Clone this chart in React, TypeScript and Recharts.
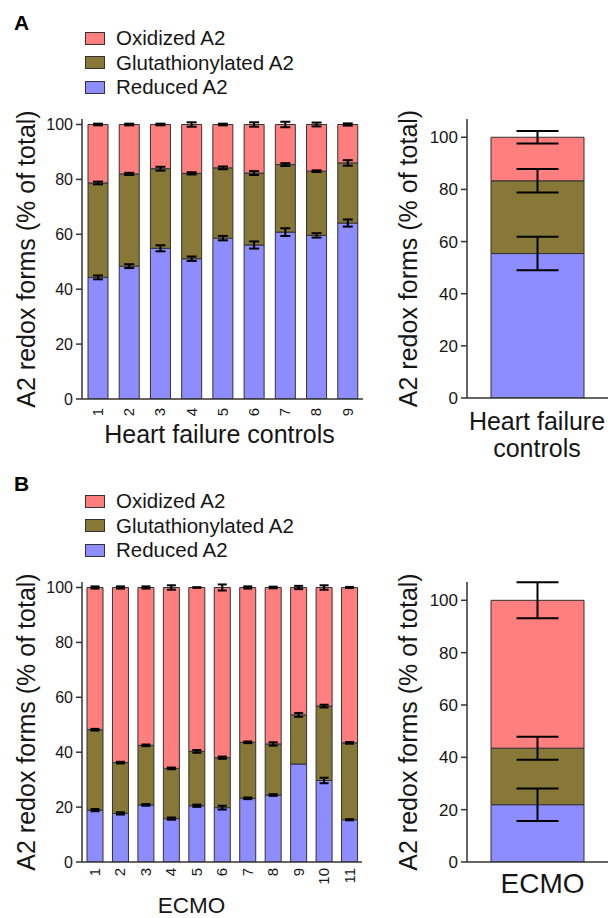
import { BarChart, Bar, XAxis, YAxis, ErrorBar, Legend, Label } from 'recharts';

const FONT = '"Liberation Sans", Arial, Helvetica, sans-serif';
const INK = '#161616';
const EDGE = '#333333';
const OX_COLOR = '#FF7F7F';
const GLUT_COLOR = '#877838';
const RED_COLOR = '#8D8DFF';

// Panel A – heart failure controls (per patient)
const hfPatients = ['1', '2', '3', '4', '5', '6', '7', '8', '9'];
const hfReduced = [44.3, 48.4, 54.9, 51.1, 58.6, 56.1, 60.8, 59.6, 64.1];
const hfGlut = [34.4, 33.6, 29.0, 31.1, 25.6, 26.2, 24.6, 23.4, 21.9];
const hfOxidized = [21.3, 18.0, 16.1, 17.8, 15.8, 17.7, 14.6, 17.0, 14.0];
const hfReducedErr = [0.7, 0.7, 1.1, 0.8, 0.8, 1.3, 1.4, 0.8, 1.3];
const hfGlutErr = [0.5, 0.4, 0.7, 0.4, 0.5, 0.7, 0.5, 0.3, 1.0];
const hfOxidizedErr = [0.3, 0.3, 0.3, 0.8, 0.3, 0.8, 1.0, 0.7, 0.4];

// Panel A – summary
const hfGroup = ['Heart failure controls'];
const hfMeanReduced = [55.4];
const hfMeanGlut = [27.9];
const hfMeanOxidized = [16.7];
const hfMeanReducedErr = [6.4];
const hfMeanGlutErr = [4.5];
const hfMeanOxidizedErr = [2.4];

// Panel B – ECMO (per patient)
const ecmoPatients = ['1', '2', '3', '4', '5', '6', '7', '8', '9', '10', '11'];
const ecmoReduced = [18.9, 17.7, 20.8, 15.8, 20.5, 19.8, 23.2, 24.4, 35.7, 29.7, 15.4];
const ecmoGlut = [29.3, 18.5, 21.7, 18.3, 19.8, 18.2, 20.4, 18.6, 17.9, 27.1, 28.0];
const ecmoOxidized = [51.8, 63.8, 57.5, 65.9, 59.7, 62.0, 56.4, 57.0, 46.4, 43.2, 56.6];
const ecmoReducedErr = [0.4, 0.4, 0.3, 0.4, 0.4, 0.7, 0.3, 0.3, 0, 1.0, 0.2];
const ecmoGlutErr = [0.3, 0.3, 0.3, 0.3, 0.5, 0.4, 0.3, 0.6, 0.7, 0.5, 0.3];
const ecmoOxidizedErr = [0.4, 0.4, 0.4, 0.8, 0.1, 1.1, 0.4, 0.3, 0.6, 0.8, 0.2];

// Panel B – summary
const ecmoGroup = ['ECMO'];
const ecmoMeanReduced = [21.9];
const ecmoMeanGlut = [21.6];
const ecmoMeanOxidized = [56.5];
const ecmoMeanReducedErr = [6.2];
const ecmoMeanGlutErr = [4.4];
const ecmoMeanOxidizedErr = [6.9];

const yTicks = [0, 20, 40, 60, 80, 100];

const legendItems = [
  { label: 'Oxidized A2', color: OX_COLOR },
  { label: 'Glutathionylated A2', color: GLUT_COLOR },
  { label: 'Reduced A2', color: RED_COLOR },
];

function buildRows(
  names: string[],
  red: number[],
  glut: number[],
  ox: number[],
  redErr: number[],
  glutErr: number[],
  oxErr: number[],
) {
  return names.map((name, i) => ({
    name,
    reduced: red[i],
    glut: glut[i],
    ox: ox[i],
    reducedErr: redErr[i],
    glutErr: glutErr[i],
    oxErr: oxErr[i],
  }));
}

function LegendBox() {
  return (
    <div style={{ fontFamily: FONT, fontSize: 20.5, color: INK }}>
      {legendItems.map((it) => (
        <div key={it.label} style={{ display: 'flex', alignItems: 'center', height: 24.5 }}>
          <span
            style={{
              display: 'inline-block',
              width: 20,
              height: 13,
              background: it.color,
              border: `1px solid ${EDGE}`,
              boxSizing: 'border-box',
              marginRight: 11,
            }}
          />
          <span style={{ whiteSpace: 'nowrap' }}>{it.label}</span>
        </div>
      ))}
    </div>
  );
}

const yLabel = (cx: number) => (props: any) => {
  const vb = props.viewBox;
  const cy = vb.y + vb.height / 2;
  return (
    <text
      x={cx}
      y={cy}
      transform={`rotate(-90 ${cx} ${cy})`}
      textAnchor="middle"
      dominantBaseline="central"
      fontSize={25}
      fill={INK}
      fontFamily={FONT}
    >
      A2 redox forms (% of total)
    </text>
  );
};

const xLabel = (cx: number, lines: string[], dy: number, lineGap: number, size: number) => (props: any) => {
  const vb = props.viewBox;
  return (
    <text textAnchor="middle" fontSize={size} fill={INK} fontFamily={FONT}>
      {lines.map((l, i) => (
        <tspan key={l} x={cx} y={vb.y + dy + i * lineGap}>
          {l}
        </tspan>
      ))}
    </text>
  );
};

const rotTick = (gap: number) => (props: any) => {
  const { x, y, payload } = props;
  return (
    <g transform={`translate(${x},${y + gap})`}>
      <text transform="rotate(-90)" textAnchor="end" dy="0.35em" fontSize={15} fill={INK} fontFamily={FONT}>
        {payload.value}
      </text>
    </g>
  );
};

type PanelProps = {
  data: ReturnType<typeof buildRows>;
  width: number;
  height: number;
  top: number;
  right: number;
  yWidth: number;
  xHeight: number;
  yMax: number;
  barSize: number;
  capWidth: number;
  tickGap?: number;
  yLabelX: number;
  tickFont: number;
  xLabelContent: (props: any) => any;
  legendTop?: number;
};

function Panel(p: PanelProps) {
  const axisStyle = { stroke: EDGE, strokeWidth: 1.5 };
  const err = (key: string) => (
    <ErrorBar dataKey={key} width={p.capWidth} strokeWidth={2} stroke="#000" direction="y" />
  );
  return (
    <BarChart
      width={p.width}
      height={p.height}
      data={p.data}
      margin={{ top: p.top, right: p.right, bottom: 0, left: 0 }}
    >
      {p.legendTop !== undefined && (
        <Legend
          layout="vertical"
          align="center"
          verticalAlign="middle"
          content={() => <LegendBox />}
          wrapperStyle={{ left: 85, top: p.legendTop, width: 300 }}
        />
      )}
      <XAxis
        dataKey="name"
        height={p.xHeight}
        interval={0}
        tickLine={false}
        tickSize={0}
        tickMargin={0}
        axisLine={axisStyle}
        tick={p.tickGap !== undefined ? rotTick(p.tickGap) : false}
      >
        <Label content={p.xLabelContent} />
      </XAxis>
      <YAxis
        type="number"
        domain={[0, p.yMax]}
        allowDataOverflow
        ticks={yTicks}
        interval={0}
        width={p.yWidth}
        tickSize={6}
        tickMargin={3}
        tickLine={axisStyle}
        axisLine={axisStyle}
        tick={{ fontSize: p.tickFont, fill: INK, fontFamily: FONT }}
      >
        <Label content={yLabel(p.yLabelX)} />
      </YAxis>
      <Bar dataKey="reduced" stackId="s" fill={RED_COLOR} stroke={EDGE} strokeWidth={1} barSize={p.barSize} isAnimationActive={false}>
        {err('reducedErr')}
      </Bar>
      <Bar dataKey="glut" stackId="s" fill={GLUT_COLOR} stroke={EDGE} strokeWidth={1} barSize={p.barSize} isAnimationActive={false}>
        {err('glutErr')}
      </Bar>
      <Bar dataKey="ox" stackId="s" fill={OX_COLOR} stroke={EDGE} strokeWidth={1} barSize={p.barSize} isAnimationActive={false}>
        {err('oxErr')}
      </Bar>
    </BarChart>
  );
}

const hfRows = buildRows(hfPatients, hfReduced, hfGlut, hfOxidized, hfReducedErr, hfGlutErr, hfOxidizedErr);
const hfMeanRows = buildRows(hfGroup, hfMeanReduced, hfMeanGlut, hfMeanOxidized, hfMeanReducedErr, hfMeanGlutErr, hfMeanOxidizedErr);
const ecmoRows = buildRows(ecmoPatients, ecmoReduced, ecmoGlut, ecmoOxidized, ecmoReducedErr, ecmoGlutErr, ecmoOxidizedErr);
const ecmoMeanRows = buildRows(ecmoGroup, ecmoMeanReduced, ecmoMeanGlut, ecmoMeanOxidized, ecmoMeanReducedErr, ecmoMeanGlutErr, ecmoMeanOxidizedErr);

export default function App() {
  const panelLetter = { position: 'absolute' as const, left: 14, fontFamily: FONT, fontWeight: 700, fontSize: 21, color: '#000', lineHeight: 1 };
  return (
    <div style={{ position: 'absolute', left: 0, top: 0, width: 608, height: 918, background: '#fff', fontFamily: FONT, overflow: 'hidden' }}>
      <div style={{ ...panelLetter, top: 12 }}>A</div>
      <div style={{ ...panelLetter, top: 473 }}>B</div>

      <div style={{ position: 'absolute', left: 0, top: 0 }}>
        <Panel
          data={hfRows}
          width={372}
          height={470}
          top={119}
          right={9}
          yWidth={82}
          xHeight={71}
          yMax={102}
          barSize={20}
          capWidth={5}
          tickGap={9}
          yLabelX={26}
          tickFont={16}
          xLabelContent={xLabel(219.5, ['Heart failure controls'], 44, 0, 25)}
          legendTop={26}
        />
      </div>

      <div style={{ position: 'absolute', left: 380, top: 0 }}>
        <Panel
          data={hfMeanRows}
          width={228}
          height={470}
          top={119}
          right={0}
          yWidth={87}
          xHeight={72}
          yMax={107}
          barSize={93}
          capWidth={21}
          yLabelX={28}
          tickFont={17}
          xLabelContent={xLabel(157, ['Heart failure', 'controls'], 32, 26.5, 25)}
        />
      </div>

      <div style={{ position: 'absolute', left: 0, top: 470 }}>
        <Panel
          data={ecmoRows}
          width={372}
          height={448}
          top={112}
          right={10}
          yWidth={82}
          xHeight={56}
          yMax={102}
          barSize={16}
          capWidth={4.5}
          tickGap={6}
          yLabelX={26}
          tickFont={16}
          xLabelContent={xLabel(191.5, ['ECMO'], 51, 0, 22.5)}
          legendTop={19}
        />
      </div>

      <div style={{ position: 'absolute', left: 380, top: 470 }}>
        <Panel
          data={ecmoMeanRows}
          width={228}
          height={448}
          top={112}
          right={0}
          yWidth={87}
          xHeight={56}
          yMax={107}
          barSize={93}
          capWidth={21}
          yLabelX={28}
          tickFont={17}
          xLabelContent={xLabel(162.5, ['ECMO'], 31, 0, 28)}
        />
      </div>
    </div>
  );
}
